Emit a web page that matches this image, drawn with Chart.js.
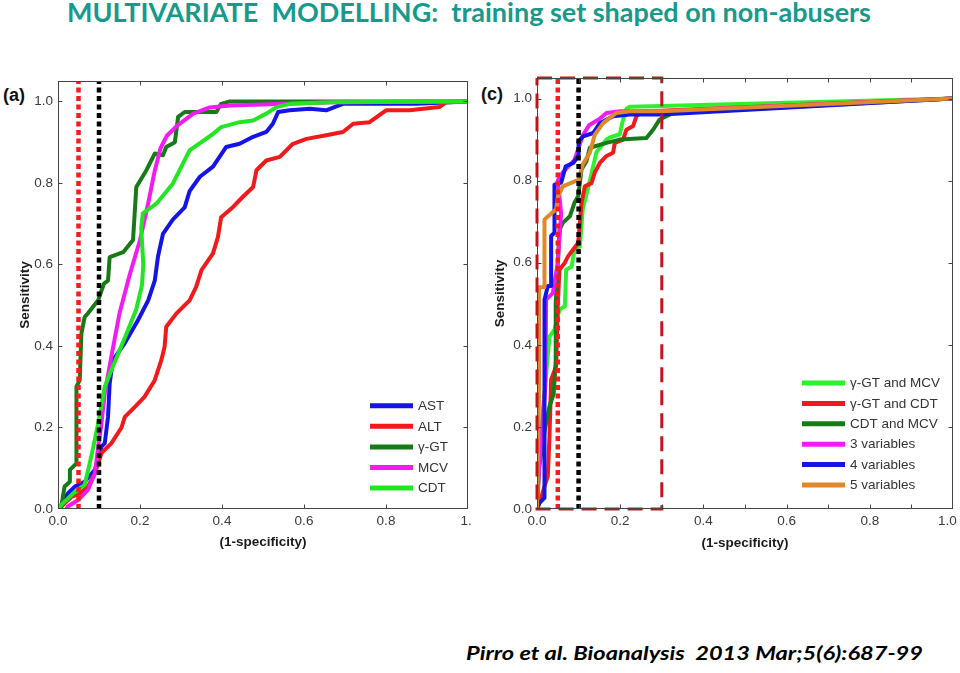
<!DOCTYPE html>
<html><head><meta charset="utf-8">
<script src="https://cdn.jsdelivr.net/npm/chart.js@4/dist/chart.umd.min.js"></script>
<style>
html,body{margin:0;padding:0;background:#fff;width:960px;height:673px;overflow:hidden;}
body{position:relative;}
#title{position:absolute;left:67px;top:-2px;font-family:Lato;font-weight:bold;font-size:27px;line-height:27px;color:#17998b;white-space:pre;transform-origin:0 0;}
#cite{position:absolute;left:466px;top:643px;font-family:Lato;font-weight:bold;font-style:italic;font-size:19px;line-height:20px;color:#000;white-space:pre;transform-origin:0 0;}
.plabel{position:absolute;font-family:"Liberation Sans";font-weight:bold;font-size:18px;line-height:20px;color:#111;}
.wrap{position:absolute;}
</style></head>
<body>
<div id="title">MULTIVARIATE  MODELLING:  training set shaped on non-abusers</div>
<div class="plabel" style="left:3px;top:85px;">(a)</div>
<div class="plabel" style="left:481px;top:84px;">(c)</div>
<div class="wrap" style="left:0;top:60px;"><canvas id="cA" width="480" height="494"></canvas></div>
<div class="wrap" style="left:480px;top:60px;"><canvas id="cC" width="480" height="495"></canvas></div>
<div id="cite">Pirro et al. Bioanalysis  2013 Mar;5(6):687-99</div>
<script>
// ---- axis ticks ----
const xTickValues = [0, 0.2, 0.4, 0.6, 0.8, 1.0];
const xTickLabelsA = ['0.0', '0.2', '0.4', '0.6', '0.8', '1.\u00a0'];
const xTickLabelsC = ['0.0', '0.2', '0.4', '0.6', '0.8', '1.0\u00a0\u00a0\u00a0'];
const yTickValues = [0, 0.2, 0.4, 0.6, 0.8, 1.0];
const yTickLabels = ['0.0', '0.2', '0.4', '0.6', '0.8', '1.0'];
const xMarksA = [0.2, 0.4, 0.6, 0.8];
const xMarksC = [0.1, 0.2, 0.3, 0.4, 0.5, 0.6, 0.7, 0.8, 0.9];
const yMarks = [0.2, 0.4, 0.6, 0.8, 1.0];
const yMax = 1.05;

// ---- cut-off lines (1-specificity) ----
const cutoffRed = 0.05;
const cutoffBlack = 0.10;
const zoomBoxX = [0, 0.3, 0.3, 0, 0];
const zoomBoxY = [1.05, 1.05, 0, 0, 1.05];

// ---- panel (a): single markers ----
const astX = [0, 0.008, 0.024, 0.041, 0.065, 0.09, 0.106, 0.114, 0.122, 0.126, 0.134, 0.163, 0.195, 0.22, 0.236, 0.244, 0.256, 0.28, 0.309, 0.321, 0.346, 0.378, 0.394, 0.41, 0.443, 0.476, 0.508, 0.524, 0.537, 0.565, 0.614, 0.654, 0.695, 0.874, 1.0];
const astY = [0, 0.01, 0.038, 0.055, 0.067, 0.096, 0.153, 0.161, 0.226, 0.308, 0.365, 0.407, 0.463, 0.512, 0.56, 0.62, 0.675, 0.71, 0.74, 0.78, 0.815, 0.84, 0.864, 0.888, 0.896, 0.913, 0.925, 0.945, 0.974, 0.978, 0.982, 0.978, 0.994, 0.994, 1.0];

const altX = [0, 0.008, 0.033, 0.053, 0.073, 0.09, 0.106, 0.13, 0.155, 0.163, 0.187, 0.211, 0.236, 0.252, 0.26, 0.264, 0.289, 0.321, 0.337, 0.35, 0.378, 0.39, 0.398, 0.427, 0.451, 0.476, 0.484, 0.508, 0.541, 0.573, 0.606, 0.654, 0.695, 0.72, 0.76, 0.8, 0.858, 0.93, 0.947, 1.0];
const altY = [0, 0.006, 0.03, 0.038, 0.055, 0.087, 0.137, 0.161, 0.2, 0.226, 0.25, 0.275, 0.316, 0.365, 0.398, 0.447, 0.48, 0.512, 0.545, 0.586, 0.627, 0.667, 0.716, 0.741, 0.766, 0.79, 0.831, 0.855, 0.864, 0.896, 0.908, 0.917, 0.925, 0.945, 0.949, 0.978, 0.978, 0.986, 0.998, 1.0];

const ggtX = [0, 0.008, 0.016, 0.029, 0.029, 0.045, 0.045, 0.053, 0.057, 0.065, 0.073, 0.098, 0.112, 0.122, 0.126, 0.159, 0.183, 0.191, 0.215, 0.236, 0.256, 0.264, 0.285, 0.293, 0.309, 0.386, 0.398, 0.419, 1.0];
const ggtY = [0, 0.006, 0.055, 0.067, 0.096, 0.112, 0.3, 0.316, 0.43, 0.471, 0.48, 0.512, 0.553, 0.56, 0.618, 0.63, 0.66, 0.79, 0.83, 0.872, 0.868, 0.888, 0.9, 0.962, 0.974, 0.974, 0.994, 1.0, 1.0];

const mcvX = [0.02, 0.024, 0.049, 0.073, 0.09, 0.098, 0.106, 0.114, 0.13, 0.15, 0.175, 0.2, 0.22, 0.236, 0.25, 0.265, 0.29, 0.33, 0.37, 0.42, 0.67, 1.0];
const mcvY = [0, 0.006, 0.022, 0.047, 0.087, 0.153, 0.21, 0.284, 0.373, 0.48, 0.575, 0.66, 0.75, 0.83, 0.885, 0.915, 0.94, 0.97, 0.985, 0.99, 0.998, 1.0];

const cdtX = [0, 0.008, 0.037, 0.049, 0.065, 0.081, 0.098, 0.114, 0.134, 0.167, 0.191, 0.205, 0.208, 0.203, 0.207, 0.24, 0.28, 0.321, 0.378, 0.398, 0.443, 0.476, 0.508, 0.533, 0.565, 0.67, 1.0];
const cdtY = [0, 0.01, 0.038, 0.047, 0.059, 0.128, 0.21, 0.3, 0.35, 0.43, 0.49, 0.55, 0.6, 0.69, 0.725, 0.749, 0.798, 0.88, 0.92, 0.937, 0.949, 0.953, 0.97, 0.986, 0.994, 0.998, 1.0];

// ---- panel (c): combinations ----
const gmX = [0, 0.005, 0.015, 0.022, 0.03, 0.042, 0.054, 0.067, 0.07, 0.083, 0.09, 0.103, 0.11, 0.127, 0.143, 0.167, 0.175, 0.199, 0.206, 0.215, 0.223, 0.3, 1.0];
const gmY = [0, 0.12, 0.25, 0.33, 0.42, 0.437, 0.486, 0.494, 0.583, 0.59, 0.63, 0.64, 0.73, 0.8, 0.87, 0.9, 0.905, 0.913, 0.945, 0.975, 0.98, 0.982, 1.0];

const gcX = [0, 0.008, 0.018, 0.026, 0.03, 0.034, 0.046, 0.05, 0.054, 0.067, 0.075, 0.087, 0.099, 0.107, 0.115, 0.131, 0.139, 0.151, 0.167, 0.183, 0.187, 0.207, 0.215, 0.231, 0.239, 0.255, 0.3, 1.0];
const gcY = [0, 0.02, 0.055, 0.08, 0.177, 0.315, 0.348, 0.5, 0.583, 0.6, 0.616, 0.632, 0.648, 0.746, 0.786, 0.794, 0.82, 0.843, 0.86, 0.868, 0.892, 0.9, 0.924, 0.933, 0.957, 0.969, 0.97, 1.0];

const cmX = [0, 0.005, 0.02, 0.03, 0.04, 0.045, 0.045, 0.05, 0.054, 0.062, 0.079, 0.09, 0.099, 0.107, 0.119, 0.127, 0.167, 0.199, 0.263, 0.279, 0.295, 0.311, 0.327, 1.0];
const cmY = [0, 0.1, 0.2, 0.25, 0.28, 0.36, 0.5, 0.6, 0.68, 0.697, 0.713, 0.746, 0.762, 0.827, 0.848, 0.88, 0.892, 0.9, 0.904, 0.924, 0.949, 0.957, 0.965, 1.0];

const v3X = [0, 0.005, 0.02, 0.022, 0.038, 0.05, 0.058, 0.05, 0.062, 0.09, 0.1, 0.11, 0.125, 0.15, 0.167, 0.2, 0.3, 1.0];
const v3Y = [0, 0.1, 0.3, 0.51, 0.526, 0.6, 0.72, 0.8, 0.82, 0.85, 0.88, 0.91, 0.935, 0.95, 0.965, 0.969, 0.969, 1.0];

const v4X = [0, 0.006, 0.018, 0.018, 0.026, 0.034, 0.034, 0.042, 0.042, 0.058, 0.069, 0.087, 0.099, 0.1, 0.111, 0.135, 0.151, 0.183, 0.223, 0.3, 1.0];
const v4Y = [0, 0.015, 0.027, 0.51, 0.543, 0.543, 0.665, 0.673, 0.79, 0.795, 0.835, 0.843, 0.86, 0.896, 0.908, 0.916, 0.94, 0.957, 0.961, 0.961, 1.0];

const v5X = [0, 0.005, 0.005, 0.018, 0.018, 0.034, 0.046, 0.05, 0.062, 0.095, 0.1, 0.11, 0.127, 0.139, 0.159, 0.191, 0.223, 0.3, 1.0];
const v5Y = [0, 0.3, 0.54, 0.54, 0.705, 0.72, 0.73, 0.76, 0.786, 0.8, 0.8, 0.84, 0.868, 0.912, 0.94, 0.965, 0.969, 0.969, 1.0];

const labelsA = ['AST', 'ALT', 'γ-GT', 'MCV', 'CDT'];
const labelsC = ['γ-GT and MCV', 'γ-GT and CDT', 'CDT and MCV', '3 variables', '4 variables', '5 variables'];

// ---- helpers ----
const FONT = '"Liberation Sans", Arial, sans-serif';
function pts(xs, ys) { return xs.map((x, i) => ({x: x, y: ys[i]})); }
function curve(label, xs, ys, color, idx) {
  return {label: label, data: pts(xs, ys), borderColor: color, backgroundColor: color,
    borderWidth: 4, showLine: true, pointRadius: 0, tension: 0, fill: false,
    order: -idx, legendItem: true, borderJoinStyle: 'round', borderCapStyle: 'butt'};
}
function vline(x, color) {
  return {label: '', data: pts([x, x], [0, yMax]), borderColor: color, borderWidth: 4.5,
    borderDash: [5, 3.5], showLine: true, pointRadius: 0, order: -50, legendItem: false};
}

const framePlugin = {
  id: 'frame',
  afterDatasetsDraw(chart, args, opts) {
    const {ctx, chartArea: a, scales: {x, y}} = chart;
    ctx.save();
    ctx.strokeStyle = '#444';
    ctx.lineWidth = 1;
    ctx.setLineDash([]);
    const L = Math.round(a.left) + 0.5, R = Math.round(a.right) - 0.5, T = Math.round(a.top) + 0.5, B = Math.round(a.bottom) - 0.5;
    ctx.strokeRect(L, T, R - L, B - T);
    ctx.beginPath();
    opts.xMarks.forEach(v => {
      const p = Math.round(x.getPixelForValue(v)) + 0.5;
      ctx.moveTo(p, B); ctx.lineTo(p, B - 4);
      ctx.moveTo(p, T); ctx.lineTo(p, T + 4);
    });
    opts.yMarks.forEach(v => {
      const p = Math.round(y.getPixelForValue(v)) + 0.5;
      ctx.moveTo(L, p); ctx.lineTo(L + 4, p);
      ctx.moveTo(R, p); ctx.lineTo(R - 4, p);
    });
    ctx.stroke();
    ctx.restore();
  },
  afterDraw(chart, args, opts) {
    const {ctx, chartArea: a} = chart;
    const items = chart.data.datasets.filter(d => d.legendItem);
    ctx.save();
    ctx.font = '13.5px ' + FONT;
    ctx.textBaseline = 'middle';
    ctx.fillStyle = '#333';
    items.forEach((d, i) => {
      const yy = a.bottom - opts.legTop + i * opts.legStep;
      ctx.strokeStyle = d.borderColor;
      ctx.lineWidth = 5;
      ctx.beginPath();
      ctx.moveTo(a.right - opts.legLine0, yy);
      ctx.lineTo(a.right - opts.legLine1, yy);
      ctx.stroke();
      ctx.fillText(d.label, a.right - opts.legText, yy + 0.5);
    });
    ctx.restore();
  }
};

function makeChart(id, datasets, xLabels, xMarks, pad, yWidth, xHeight, leg) {
  return new Chart(document.getElementById(id), {
    type: 'scatter',
    data: {datasets: datasets},
    plugins: [framePlugin],
    options: {
      responsive: false, animation: false, devicePixelRatio: 1,
      layout: {padding: pad},
      plugins: {legend: {display: false}, tooltip: {enabled: false},
        frame: Object.assign({xMarks: xMarks, yMarks: yMarks}, leg)},
      scales: {
        x: {type: 'linear', min: 0, max: 1,
          afterBuildTicks: s => { s.ticks = xTickValues.map(v => ({value: v})); },
          ticks: {callback: (v, i) => xLabels[i], font: {family: FONT, size: 13.5}, color: '#3a3a3a', padding: 4, maxRotation: 0, autoSkip: false},
          grid: {display: false, drawTicks: false}, border: {display: false},
          title: {display: true, text: '(1-specificity)', font: {family: FONT, size: 13.5, weight: 'bold'}, color: '#1a1a1a', padding: {top: 4, bottom: 4}},
          afterFit: s => { s.height = xHeight; s.paddingLeft = 0; s.paddingRight = 0; }
        },
        y: {type: 'linear', min: 0, max: yMax,
          afterBuildTicks: s => { s.ticks = yTickValues.map(v => ({value: v})); },
          ticks: {callback: (v, i) => yTickLabels[i], font: {family: FONT, size: 13.5}, color: '#3a3a3a', padding: 5, autoSkip: false},
          grid: {display: false, drawTicks: false}, border: {display: false},
          title: {display: true, text: 'Sensitivity', font: {family: FONT, size: 13.5, weight: 'bold'}, color: '#1a1a1a', padding: {top: 4, bottom: 4}},
          afterFit: s => { s.width = yWidth; s.paddingTop = 0; s.paddingBottom = 0; }
        }
      }
    }
  });
}

const dsA = [
  curve(labelsA[0], astX, astY, '#1414e6', 0),
  curve(labelsA[1], altX, altY, '#f01a1a', 1),
  curve(labelsA[2], ggtX, ggtY, '#177a17', 2),
  curve(labelsA[3], mcvX, mcvY, '#f21cf2', 3),
  curve(labelsA[4], cdtX, cdtY, '#22e622', 4),
  vline(cutoffRed, '#ff1a1a'),
  vline(cutoffBlack, '#000000')
];
makeChart('cA', dsA, xTickLabelsA, xMarksA, {left: 13, right: 12, top: 21, bottom: 0}, 45, 45,
  {legTop: 103.3, legStep: 20.6, legLine0: 98, legLine1: 55, legText: 50});

const dsC = [
  curve(labelsC[0], gmX, gmY, '#2ef02e', 0),
  curve(labelsC[1], gcX, gcY, '#f01a1a', 1),
  curve(labelsC[2], cmX, cmY, '#177a17', 2),
  curve(labelsC[3], v3X, v3Y, '#f21cf2', 3),
  curve(labelsC[4], v4X, v4Y, '#1414e6', 4),
  curve(labelsC[5], v5X, v5Y, '#e0882a', 5),
  vline(cutoffRed, '#ff1a1a'),
  vline(cutoffBlack, '#000000'),
  {label: '', data: pts(zoomBoxX, zoomBoxY), borderColor: '#c3161c', borderWidth: 3, borderDash: [15, 8],
    showLine: true, pointRadius: 0, order: -60, legendItem: false, clip: 4}
];
makeChart('cC', dsC, xTickLabelsC, xMarksC, {left: 8, right: 7, top: 18, bottom: 0}, 49, 46,
  {legTop: 126, legStep: 20.4, legLine0: 151, legLine1: 108, legText: 103});

function fit(id, w) {
  const el = document.getElementById(id);
  el.style.transform = 'none';
  const cw = el.getBoundingClientRect().width;
  if (cw > 0) el.style.transform = 'scaleX(' + (w / cw) + ')';
}
fit('title', 804); fit('cite', 457);
if (document.fonts && document.fonts.ready) document.fonts.ready.then(() => { fit('title', 804); fit('cite', 457); });
</script>
</body></html>
